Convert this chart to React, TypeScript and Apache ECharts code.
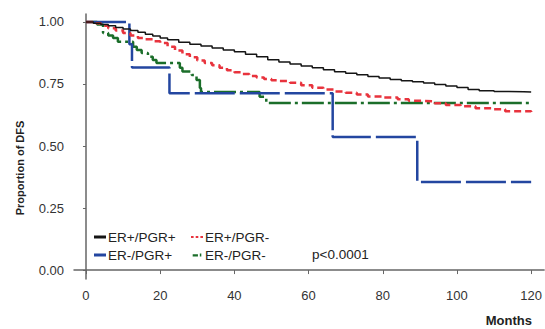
import React, { useEffect, useRef } from "react";
import * as echarts from "echarts";

const seriesNames = ["ER+/PGR+", "ER+/PGR-", "ER-/PGR+", "ER-/PGR-"];

const erPosPgrPos: [number, number][] = [
  [0, 1], [2, 0.995], [4, 0.99], [6, 0.985], [8, 0.978], [10, 0.972], [12, 0.965],
  [14, 0.958], [16, 0.95], [18, 0.943], [20, 0.935], [22, 0.928], [25, 0.918],
  [28, 0.91], [31, 0.903], [34, 0.895], [37, 0.887], [40, 0.88], [43, 0.87],
  [46, 0.86], [49, 0.848], [52, 0.839], [55, 0.83], [58, 0.822], [61, 0.815],
  [64, 0.807], [67, 0.799], [70, 0.793], [73, 0.787], [76, 0.78], [79, 0.774],
  [82, 0.768], [85, 0.763], [88, 0.759], [91, 0.754], [94, 0.748], [97, 0.742],
  [100, 0.736], [103, 0.728], [106, 0.723], [110, 0.72], [114, 0.719], [118, 0.718],
  [120, 0.718],
];

const erPosPgrNeg: [number, number][] = [
  [0, 1], [2, 0.995], [4, 0.985], [6, 0.975], [8, 0.965], [10, 0.955], [12, 0.945],
  [14, 0.935], [16, 0.93], [18, 0.922], [20, 0.915], [22, 0.9], [24, 0.885],
  [26, 0.87], [28, 0.858], [30, 0.845], [32, 0.835], [34, 0.825], [36, 0.815],
  [38, 0.805], [40, 0.797], [42, 0.79], [44, 0.782], [46, 0.776], [48, 0.77],
  [50, 0.765], [52, 0.762], [55, 0.755], [58, 0.745], [61, 0.735], [64, 0.728],
  [67, 0.72], [70, 0.715], [73, 0.708], [76, 0.7], [80, 0.695], [84, 0.688],
  [87, 0.682], [91, 0.68], [94, 0.672], [97, 0.665], [101, 0.66], [105, 0.652],
  [110, 0.648], [113, 0.64], [120, 0.637],
];

const erNegPgrPos: [number, number][] = [
  [0, 1], [11.7, 0.91], [12.4, 0.816], [22.5, 0.713], [66.5, 0.536], [89.3, 0.355],
  [120, 0.355],
];

const erNegPgrNeg: [number, number][] = [
  [0, 1], [3, 0.99], [4.6, 0.955], [6, 0.945], [7.3, 0.935], [8.6, 0.92],
  [12.7, 0.9], [13.7, 0.887], [15, 0.875], [16.7, 0.86], [18, 0.847], [19, 0.835],
  [25.3, 0.815], [26, 0.8], [28.5, 0.786], [29.8, 0.766], [30.7, 0.734],
  [31, 0.718], [46.8, 0.698], [48.6, 0.673], [120, 0.673],
];

const xTicks = [0, 20, 40, 60, 80, 100, 120];
const yTicks = [0, 0.25, 0.5, 0.75, 1];

const colors = ["#151515", "#e8333d", "#2346a0", "#1b6e2a"];

const legendIcons = [
  "path://M0,0h12v3h-12z",
  "path://M0,0h2.5v2h-2.5z M4.5,0h2.5v2h-2.5z M9,0h2.5v2h-2.5z",
  "path://M0,0h12v3h-12z",
  "path://M0,0h7v3h-7z M9.5,-1h2v4h-2z",
];

export default function App() {
  const ref = useRef<HTMLDivElement>(null);
  useEffect(() => {
    if (!ref.current) return;
    const chart = echarts.init(ref.current, undefined, { renderer: "svg" });
    const font = "Arial, 'Liberation Sans', sans-serif";
    const mk = (i: number, data: [number, number][], width: number, type: any) => ({
      name: seriesNames[i],
      type: "line",
      step: "end",
      data,
      symbol: "none",
      showSymbol: false,
      lineStyle: { color: colors[i], width, type },
      itemStyle: { color: colors[i] },
      z: 4 - i,
    });
    const legendItem = (i: number) => ({
      name: seriesNames[i],
      icon: legendIcons[i],
      itemStyle: { color: colors[i], borderWidth: 0 },
    });
    const legendBase = {
      orient: "vertical",
      top: 225,
      itemWidth: 12,
      itemHeight: 3,
      itemGap: 4,
      textStyle: { fontSize: 13.5, color: "#222", fontFamily: font, padding: [0, 0, 0, -3] },
    };
    chart.setOption({
      animation: false,
      backgroundColor: "#ffffff",
      grid: { left: 74, right: 0, top: 14, bottom: 50 },
      xAxis: {
        type: "value",
        min: -3.23,
        max: 123.5,
        splitLine: { show: false },
        axisLine: { show: true, lineStyle: { color: "#666", width: 1.5 } },
        axisTick: { show: true, customValues: xTicks, length: 4, lineStyle: { color: "#666" } },
        axisLabel: {
          customValues: xTicks,
          margin: 10,
          fontSize: 13,
          color: "#333",
          fontFamily: font,
        },
      },
      yAxis: {
        type: "value",
        min: -0.036,
        max: 1.032,
        splitLine: { show: false },
        axisLine: { show: true, lineStyle: { color: "#666", width: 1.5 } },
        axisTick: { show: true, customValues: yTicks, length: 3, lineStyle: { color: "#666" } },
        axisLabel: {
          customValues: yTicks,
          margin: 10,
          fontSize: 13,
          color: "#333",
          fontFamily: font,
          padding: [0, 0, 10, 0],
          formatter: (v: number) => v.toFixed(2),
        },
      },
      legend: [
        { ...legendBase, left: 89, data: [legendItem(0), legendItem(2)] },
        { ...legendBase, left: 186, data: [legendItem(1), legendItem(3)] },
      ],
      graphic: [
        {
          type: "text",
          left: 312,
          top: 247,
          style: { text: "p<0.0001", fill: "#222", font: `13.5px ${font}` },
        },
        {
          type: "text",
          right: 13,
          top: 314,
          style: { text: "Months", fill: "#222", font: `bold 13px ${font}` },
        },
        {
          type: "text",
          x: 20,
          y: 168,
          rotation: Math.PI / 2,
          style: {
            text: "Proportion of DFS",
            fill: "#222",
            font: `bold 11px ${font}`,
            align: "center",
            verticalAlign: "middle",
          },
        },
      ],
      series: [
        mk(0, erPosPgrPos, 1.5, "solid"),
        mk(1, erPosPgrNeg, 2.5, [7, 4]),
        mk(2, erNegPgrPos, 2.5, [40, 5]),
        mk(3, erNegPgrNeg, 2.5, [22, 4, 3, 4]),
      ],
    });
    return () => chart.dispose();
  }, []);
  return <div ref={ref} style={{ width: 545, height: 329, position: "absolute", left: 0, top: 0 }} />;
}
